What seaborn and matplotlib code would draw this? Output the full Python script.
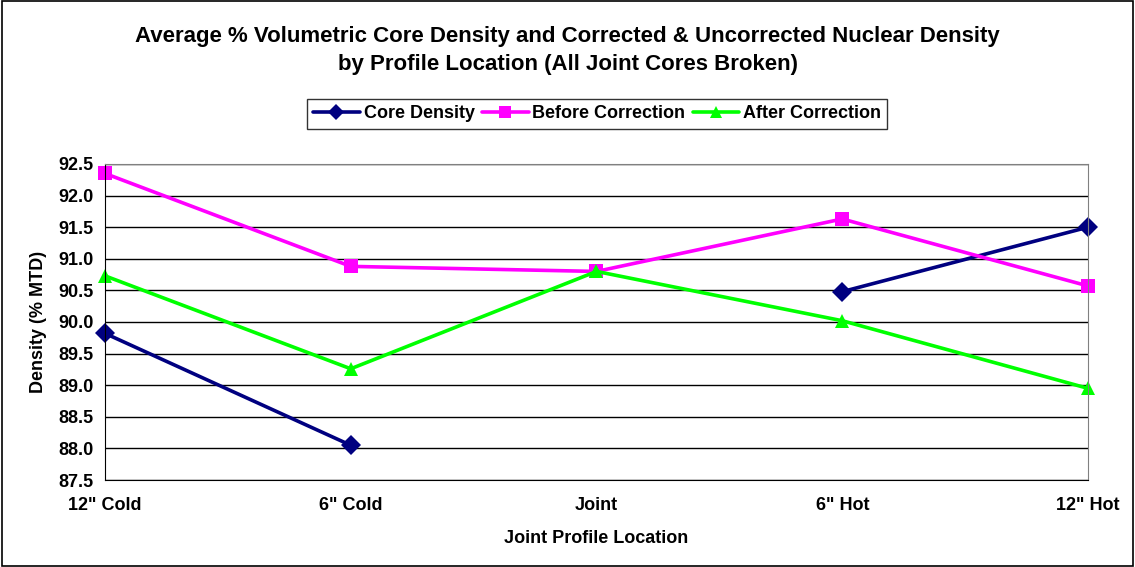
import pandas as pd
import numpy as np
import matplotlib
matplotlib.use("Agg")
import matplotlib.pyplot as plt
import seaborn as sns
from matplotlib.lines import Line2D

sns.set_style("white")
plt.rcParams["font.family"] = ["Liberation Sans", "DejaVu Sans"]
plt.rcParams["font.weight"] = "bold"
plt.rcParams["text.color"] = "black"
plt.rcParams["axes.labelcolor"] = "black"
plt.rcParams["xtick.color"] = "black"
plt.rcParams["ytick.color"] = "black"

locations = ['12" Cold', '6" Cold', "Joint", '6" Hot', '12" Hot']
core_density = [89.82, 88.05, np.nan, 90.48, 91.50]
before_correction = [92.35, 90.88, 90.80, 91.63, 90.57]
after_correction = [90.73, 89.26, 90.80, 90.02, 88.95]

series_names = ["Core Density", "Before Correction", "After Correction"]
palette = {"Core Density": "#000080", "Before Correction": "#FF00FF",
           "After Correction": "#00FF00"}
markers = {"Core Density": "D", "Before Correction": "s", "After Correction": "^"}

#%%
rows = []
for name, vals in zip(series_names, [core_density, before_correction, after_correction]):
    seg = 0
    for i, v in enumerate(vals):
        if np.isnan(v):
            seg += 1
            continue
        rows.append({"pos": i, "density": v, "series": name, "segment": f"{name}-{seg}"})
df = pd.DataFrame(rows)

fig = plt.figure(figsize=(11.35, 5.67), dpi=100)
ax = fig.add_axes([0.0925, 0.1534, 0.8661, 0.5574])

sns.lineplot(
    data=df,
    x="pos",
    y="density",
    hue="series",
    style="series",
    units="segment",
    estimator=None,
    palette=palette,
    markers=markers,
    dashes=False,
    linewidth=2.6,
    markersize=10,
    markeredgewidth=0,
    ax=ax,
    legend=False,
    sort=False,
)
for ln in ax.lines:
    ln.set_clip_on(False)

ax.set_xlim(0, 4)
ax.set_ylim(87.5, 92.5)
ax.set_xticks(range(len(locations)))
ax.set_xticklabels(locations, fontsize=13, fontweight="bold")
ax.set_yticks(np.arange(87.5, 92.51, 0.5))
ax.set_yticklabels([f"{v:.1f}" for v in np.arange(87.5, 92.51, 0.5)],
                   fontsize=13, fontweight="bold")
ax.yaxis.grid(True, color="black", linewidth=1)
ax.xaxis.grid(False)
ax.set_axisbelow(True)
for side in ["top", "right"]:
    ax.spines[side].set_color("#808080")
ax.spines["left"].set_color("black")
ax.spines["bottom"].set_color("black")
ax.tick_params(axis="both", length=4, color="black", direction="out")
ax.tick_params(axis="x", pad=8)
ax.tick_params(axis="y", pad=4)
ax.set_xlabel("Joint Profile Location", fontsize=13, fontweight="bold", labelpad=12)
ax.set_ylabel("Density (% MTD)", fontsize=13, fontweight="bold", labelpad=8)

handles = [Line2D([], [], color=palette[n], marker=markers[n], linewidth=2.6,
                  markersize=8, markeredgewidth=0) for n in series_names]
fig.legend(handles, series_names, loc="center", bbox_to_anchor=(0.526, 0.799),
           ncol=3, frameon=True, fancybox=False, edgecolor="black",
           handlelength=2.6, columnspacing=0.4, handletextpad=0.2,
           borderpad=0.35, prop={"weight": "bold", "size": 13})

fig.text(0.5, 1 - 50.5 / 567,
         "Average % Volumetric Core Density and Corrected & Uncorrected Nuclear Density\n"
         "by Profile Location (All Joint Cores Broken)",
         ha="center", va="center", multialignment="center",
         fontsize=16, fontweight="bold", linespacing=1.4)

fig.patches.append(plt.Rectangle((0.002, 0.002), 0.996, 0.996, transform=fig.transFigure,
                                 fill=False, edgecolor="black", linewidth=1.2))

fig.savefig("out.png", dpi=100)
